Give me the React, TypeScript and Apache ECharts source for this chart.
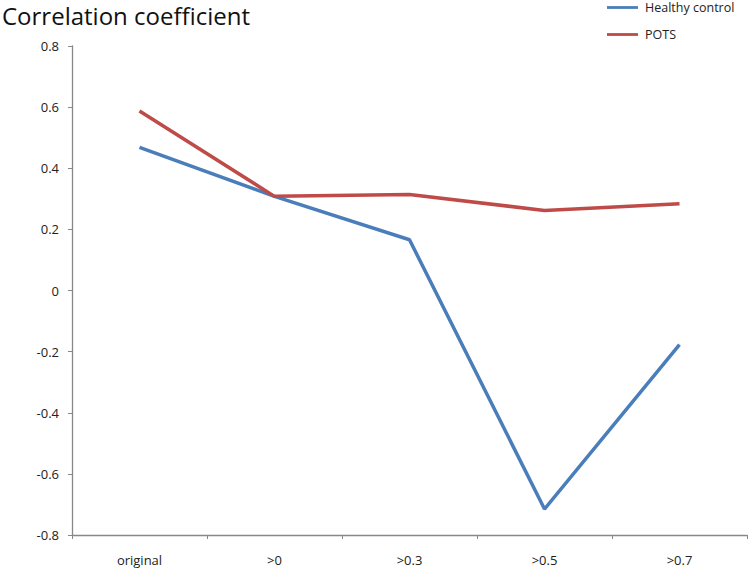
import React, { useEffect, useRef } from "react";
import * as echarts from "echarts";

const categories = ["original", ">0", ">0.3", ">0.5", ">0.7"];
const healthyControl = [0.468, 0.308, 0.166, -0.715, -0.177];
const pots = [0.587, 0.308, 0.314, 0.262, 0.284];
const seriesNames = ["Healthy control", "POTS"];

export default function App() {
  const ref = useRef<HTMLDivElement>(null);
  useEffect(() => {
    if (!ref.current) return;
    const chart = echarts.init(ref.current, undefined, { renderer: "svg" });
    const font = "'Open Sans', sans-serif";
    chart.setOption({
      animation: false,
      backgroundColor: "#ffffff",
      title: {
        text: "Correlation coefficient",
        left: 2,
        top: 2,
        padding: 0,
        textStyle: { fontFamily: font, fontSize: 24, lineHeight: 26, fontWeight: "normal", color: "#111" },
      },
      legend: {
        orient: "vertical",
        left: 607,
        top: 1,
        padding: 0,
        itemWidth: 31,
        itemHeight: 13,
        itemGap: 14,
        icon: "path://M0,5.3 L31,5.3 L31,8.1 L0,8.1 Z",
        textStyle: { fontFamily: font, fontSize: 12.5, color: "#222", padding: [0, 0, 0, 2] },
        data: seriesNames,
      },
      grid: { left: 72, right: 3, top: 46, bottom: 34, containLabel: false },
      xAxis: {
        type: "category",
        data: categories,
        boundaryGap: true,
        axisLine: { onZero: false, lineStyle: { color: "#888", width: 1.3 } },
        axisTick: { show: true, length: 4, lineStyle: { color: "#888" }, alignWithLabel: false },
        axisLabel: { fontFamily: font, fontSize: 13, color: "#222", margin: 18 },
      },
      yAxis: {
        type: "value",
        min: -0.8,
        max: 0.8,
        interval: 0.2,
        axisLine: { show: true, lineStyle: { color: "#888", width: 1.3 } },
        axisTick: { show: true, length: 4, lineStyle: { color: "#888" } },
        splitLine: { show: false },
        axisLabel: {
          fontFamily: font,
          fontSize: 13,
          color: "#222",
          margin: 13,
          formatter: (v: number) => (Math.abs(v) < 1e-9 ? "0" : String(Math.round(v * 10) / 10)),
        },
      },
      series: [
        {
          name: seriesNames[0],
          type: "line",
          data: healthyControl,
          symbol: "none",
          lineStyle: { color: "#4a7ebb", width: 3.5 },
          itemStyle: { color: "#4a7ebb" },
        },
        {
          name: seriesNames[1],
          type: "line",
          data: pots,
          symbol: "none",
          lineStyle: { color: "#be4b48", width: 3.5 },
          itemStyle: { color: "#be4b48" },
        },
      ],
    });
    return () => chart.dispose();
  }, []);
  return <div ref={ref} style={{ width: 750, height: 569, position: "absolute", left: 0, top: 0 }} />;
}
